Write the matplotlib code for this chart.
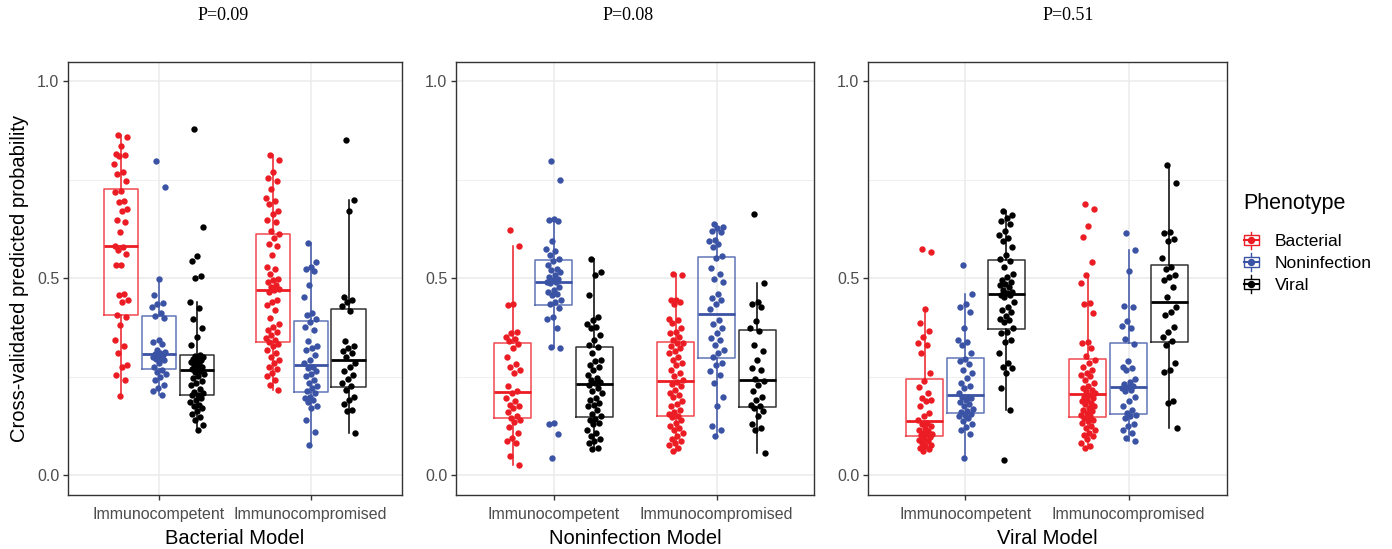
import numpy as np
import matplotlib
matplotlib.use("Agg")
import matplotlib.pyplot as plt
from matplotlib.lines import Line2D
from matplotlib.patches import Rectangle

plt.rcParams['font.family'] = ['Liberation Sans', 'DejaVu Sans']

hosts = ["Immunocompetent", "Immunocompromised"]
phenotypes = ["Bacterial", "Noninfection", "Viral"]
colors = ["#EC1C24", "#3B53A4", "#000000"]
models = ["Bacterial Model", "Noninfection Model", "Viral Model"]
p_values = ["P=0.09", "P=0.08", "P=0.51"]

# Bacterial model
bm_ic_bac = [0.864, 0.859, 0.836, 0.815, 0.812, 0.811, 0.790, 0.771, 0.764, 0.746, 0.721, 0.718, 0.697, 0.693,
             0.676, 0.672, 0.648, 0.642, 0.617, 0.583, 0.579, 0.571, 0.562, 0.535, 0.533, 0.461, 0.457, 0.444,
             0.440, 0.407, 0.402, 0.381, 0.343, 0.328, 0.310, 0.280, 0.276, 0.255, 0.242, 0.202]
bm_ic_non = [0.798, 0.731, 0.499, 0.457, 0.438, 0.434, 0.428, 0.412, 0.405, 0.400, 0.343, 0.339, 0.333, 0.318,
             0.314, 0.310, 0.308, 0.306, 0.302, 0.301, 0.297, 0.296, 0.293, 0.284, 0.276, 0.268, 0.263, 0.258,
             0.250, 0.242, 0.230, 0.222, 0.213, 0.205]
bm_ic_vir = [0.880, 0.631, 0.558, 0.544, 0.505, 0.502, 0.440, 0.425, 0.396, 0.373, 0.352, 0.331, 0.305, 0.302,
             0.300, 0.298, 0.295, 0.292, 0.290, 0.287, 0.283, 0.280, 0.276, 0.272, 0.270, 0.266, 0.262, 0.258,
             0.252, 0.247, 0.240, 0.235, 0.228, 0.220, 0.212, 0.208, 0.205, 0.204, 0.195, 0.190, 0.185, 0.178,
             0.175, 0.170, 0.162, 0.155, 0.148, 0.140, 0.128, 0.114]
bm_cp_bac = [0.812, 0.800, 0.769, 0.756, 0.747, 0.726, 0.704, 0.697, 0.690, 0.672, 0.663, 0.648, 0.642, 0.621,
             0.612, 0.603, 0.588, 0.583, 0.560, 0.529, 0.524, 0.510, 0.499, 0.495, 0.490, 0.482, 0.478, 0.474,
             0.470, 0.465, 0.444, 0.440, 0.432, 0.420, 0.400, 0.385, 0.377, 0.370, 0.364, 0.355, 0.348, 0.343,
             0.338, 0.333, 0.327, 0.318, 0.310, 0.300, 0.293, 0.285, 0.276, 0.269, 0.259, 0.251, 0.242, 0.230,
             0.217]
bm_cp_non = [0.589, 0.541, 0.529, 0.524, 0.519, 0.482, 0.453, 0.411, 0.407, 0.398, 0.388, 0.377, 0.370, 0.340,
             0.327, 0.322, 0.318, 0.305, 0.293, 0.285, 0.276, 0.272, 0.266, 0.258, 0.251, 0.242, 0.234, 0.226,
             0.221, 0.213, 0.208, 0.200, 0.196, 0.192, 0.185, 0.177, 0.171, 0.140, 0.109, 0.076]
bm_cp_vir = [0.850, 0.699, 0.672, 0.453, 0.446, 0.440, 0.430, 0.418, 0.340, 0.328, 0.322, 0.315, 0.310, 0.300,
             0.285, 0.276, 0.265, 0.255, 0.245, 0.234, 0.226, 0.217, 0.200, 0.192, 0.180, 0.167, 0.162, 0.108]

# Noninfection model
nm_ic_bac = [0.623, 0.583, 0.436, 0.432, 0.364, 0.360, 0.352, 0.345, 0.341, 0.333, 0.322, 0.300, 0.283, 0.276,
             0.268, 0.259, 0.226, 0.213, 0.209, 0.196, 0.188, 0.179, 0.175, 0.171, 0.160, 0.150, 0.146, 0.141,
             0.135, 0.123, 0.108, 0.095, 0.087, 0.083, 0.049, 0.025]
nm_ic_non = [0.798, 0.750, 0.651, 0.648, 0.646, 0.594, 0.575, 0.569, 0.560, 0.550, 0.545, 0.535, 0.524, 0.520,
             0.515, 0.508, 0.503, 0.499, 0.495, 0.492, 0.490, 0.487, 0.478, 0.470, 0.465, 0.461, 0.457, 0.445,
             0.440, 0.436, 0.425, 0.402, 0.398, 0.375, 0.325, 0.322, 0.133, 0.129, 0.104, 0.045]
nm_ic_vir = [0.548, 0.516, 0.508, 0.459, 0.402, 0.394, 0.385, 0.377, 0.373, 0.355, 0.343, 0.331, 0.325, 0.310,
             0.293, 0.289, 0.280, 0.276, 0.268, 0.255, 0.248, 0.242, 0.238, 0.234, 0.230, 0.221, 0.215, 0.209,
             0.196, 0.190, 0.184, 0.179, 0.175, 0.165, 0.155, 0.150, 0.143, 0.141, 0.133, 0.129, 0.116, 0.108,
             0.099, 0.091, 0.087, 0.083, 0.070, 0.066]
nm_cp_bac = [0.512, 0.508, 0.446, 0.444, 0.440, 0.436, 0.398, 0.394, 0.387, 0.373, 0.364, 0.360, 0.352, 0.343,
             0.337, 0.335, 0.327, 0.322, 0.315, 0.310, 0.300, 0.293, 0.285, 0.280, 0.268, 0.259, 0.251, 0.243,
             0.238, 0.232, 0.226, 0.217, 0.209, 0.205, 0.200, 0.188, 0.180, 0.175, 0.167, 0.160, 0.155, 0.151,
             0.147, 0.141, 0.133, 0.125, 0.120, 0.116, 0.108, 0.099, 0.091, 0.087, 0.083, 0.078, 0.070, 0.061]
nm_cp_non = [0.638, 0.631, 0.627, 0.621, 0.617, 0.598, 0.594, 0.588, 0.579, 0.558, 0.552, 0.527, 0.510, 0.499,
             0.491, 0.460, 0.449, 0.444, 0.436, 0.423, 0.394, 0.385, 0.375, 0.360, 0.348, 0.343, 0.330, 0.318,
             0.310, 0.301, 0.286, 0.280, 0.265, 0.255, 0.234, 0.200, 0.175, 0.126, 0.116, 0.101]
nm_cp_vir = [0.663, 0.488, 0.440, 0.436, 0.428, 0.392, 0.375, 0.366, 0.331, 0.316, 0.293, 0.272, 0.268, 0.245,
             0.240, 0.230, 0.213, 0.200, 0.192, 0.179, 0.175, 0.170, 0.162, 0.150, 0.129, 0.120, 0.116, 0.057]

# Viral model
vm_ic_bac = [0.575, 0.567, 0.423, 0.387, 0.367, 0.352, 0.335, 0.331, 0.311, 0.260, 0.240, 0.224, 0.209, 0.196,
             0.192, 0.188, 0.175, 0.158, 0.150, 0.141, 0.133, 0.130, 0.125, 0.120, 0.116, 0.112, 0.108, 0.106,
             0.104, 0.102, 0.098, 0.095, 0.090, 0.087, 0.082, 0.078, 0.074, 0.070, 0.066, 0.061]
vm_ic_non = [0.533, 0.461, 0.436, 0.428, 0.415, 0.373, 0.343, 0.339, 0.331, 0.310, 0.295, 0.289, 0.283, 0.268,
             0.259, 0.247, 0.235, 0.226, 0.221, 0.209, 0.200, 0.198, 0.196, 0.192, 0.185, 0.180, 0.175, 0.168,
             0.164, 0.160, 0.156, 0.154, 0.150, 0.146, 0.138, 0.129, 0.122, 0.116, 0.104, 0.045]
vm_ic_vir = [0.672, 0.660, 0.653, 0.646, 0.638, 0.621, 0.609, 0.603, 0.596, 0.579, 0.560, 0.550, 0.545, 0.530,
             0.512, 0.503, 0.495, 0.491, 0.485, 0.482, 0.478, 0.470, 0.465, 0.463, 0.459, 0.457, 0.453, 0.440,
             0.428, 0.419, 0.415, 0.405, 0.398, 0.394, 0.390, 0.375, 0.364, 0.360, 0.343, 0.339, 0.310, 0.285,
             0.276, 0.272, 0.259, 0.221, 0.167, 0.039]
vm_cp_bac = [0.689, 0.676, 0.634, 0.606, 0.541, 0.508, 0.487, 0.438, 0.436, 0.411, 0.339, 0.335, 0.322, 0.302,
             0.293, 0.285, 0.276, 0.268, 0.259, 0.255, 0.251, 0.242, 0.234, 0.226, 0.221, 0.217, 0.213, 0.209,
             0.205, 0.200, 0.196, 0.192, 0.188, 0.184, 0.180, 0.175, 0.170, 0.167, 0.162, 0.158, 0.154, 0.150,
             0.146, 0.141, 0.137, 0.133, 0.125, 0.120, 0.116, 0.108, 0.103, 0.099, 0.091, 0.083, 0.074, 0.070]
vm_cp_non = [0.614, 0.572, 0.518, 0.430, 0.428, 0.391, 0.379, 0.375, 0.345, 0.333, 0.289, 0.276, 0.272, 0.268,
             0.244, 0.238, 0.232, 0.226, 0.224, 0.221, 0.217, 0.215, 0.200, 0.188, 0.175, 0.167, 0.158, 0.152,
             0.150, 0.146, 0.129, 0.125, 0.116, 0.108, 0.095, 0.087]
vm_cp_vir = [0.788, 0.741, 0.617, 0.614, 0.600, 0.596, 0.552, 0.529, 0.524, 0.508, 0.503, 0.495, 0.478, 0.453,
             0.428, 0.415, 0.407, 0.377, 0.364, 0.352, 0.340, 0.330, 0.285, 0.268, 0.263, 0.188, 0.184, 0.120]

panels = [
    [[bm_ic_bac, bm_ic_non, bm_ic_vir], [bm_cp_bac, bm_cp_non, bm_cp_vir]],
    [[nm_ic_bac, nm_ic_non, nm_ic_vir], [nm_cp_bac, nm_cp_non, nm_cp_vir]],
    [[vm_ic_bac, vm_ic_non, vm_ic_vir], [vm_cp_bac, vm_cp_non, vm_cp_vir]],
]

W, H = 1392, 549
fig = plt.figure(figsize=(W / 100, H / 100), dpi=100)

# panel frames in pixels: left, right
frames = [(67.7, 401.7), (455.7, 814.3), (867.5, 1226.5)]
top_px, bot_px = 61.7, 495.0
title_x = [223, 628, 1068]

grey20 = "#333333"
grey30 = "#4D4D4D"
grid_col = "#EBEBEB"

for k in range(3):
    l, r = frames[k]
    ax = fig.add_axes([l / W, 1 - bot_px / H, (r - l) / W, (bot_px - top_px) / H])
    ax.set_axisbelow(True)
    for h in range(2):
        for j in range(3):
            vals = np.array(panels[k][h][j])
            pos = h + 1 + (j - 1) * 0.25
            c = colors[j]
            ax.boxplot(vals, positions=[pos], widths=0.225, showfliers=False, showcaps=False,
                       boxprops=dict(color=c, lw=1.1, alpha=0.8),
                       whiskerprops=dict(color=c, lw=1.1),
                       medianprops=dict(color=c, lw=2.0), manage_ticks=False)
            # deterministic jitter (golden ratio sequence)
            n = len(vals)
            jit = ((np.arange(n) * 0.618034 + 0.31) % 1.0 - 0.5) * 0.09
            ax.scatter(pos + jit, vals, s=21, color=c, linewidths=0, zorder=3)

    ax.set_xlim(0.4, 2.6)
    ax.set_ylim(-0.05, 1.05)
    ax.set_xticks([1, 2])
    ax.set_xticklabels(hosts)
    ax.set_yticks([0.0, 0.5, 1.0])
    ax.set_yticklabels(["0.0", "0.5", "1.0"])
    ax.set_yticks([0.25, 0.75], minor=True)
    ax.grid(which="major", color=grid_col, lw=1.1)
    ax.grid(which="minor", axis="y", color=grid_col, lw=0.55)
    ax.tick_params(which="major", length=3.5, width=1.0, color=grey20, labelsize=11.5,
                   labelcolor=grey30, pad=2.5)
    ax.tick_params(axis="x", which="major", pad=5)
    ax.tick_params(which="minor", length=0)
    for sp in ax.spines.values():
        sp.set_color(grey20)
        sp.set_linewidth(1.0)
    ax.set_xlabel(models[k], fontsize=14.5, labelpad=5)

    fig.text(title_x[k] / W, 1 - 16 / H, p_values[k], ha="center", va="center",
             fontsize=13, family=["Liberation Serif", "DejaVu Serif"])

fig.text(20 / W, 1 - 278.4 / H, "Cross-validated predicted probability", rotation=90,
         ha="center", va="center", fontsize=14.5)


# legend key drawn like a ggplot boxplot key
class BoxKey:
    def legend_artist(self, legend, orig_handle, fontsize, handlebox):
        c = orig_handle.get_color()
        x0, y0 = -handlebox.xdescent, -handlebox.ydescent
        w, h = handlebox.width, handlebox.height
        cx, cy = x0 + w / 2, y0 + h / 2
        bw, bh = w * 0.92, 7.4
        whisk = Line2D([cx, cx], [cy - 6.2, cy + 6.2], color=c, lw=1.0)
        box = Rectangle((cx - bw / 2, cy - bh / 2), bw, bh, fc="white", ec=c, lw=1.0)
        med = Line2D([cx - bw / 2, cx + bw / 2], [cy, cy], color=c, lw=1.5)
        dot = Line2D([cx], [cy], marker="o", markersize=4.3, color=c, ls="None")
        for a in (whisk, box, med, dot):
            a.set_transform(handlebox.get_transform())
            handlebox.add_artist(a)
        return box


fig.text(1243 / W, 1 - 204 / H, "Phenotype", ha="left", va="center", fontsize=15.5)

handles = [Line2D([], [], color=c) for c in colors]
leg = fig.legend(handles=handles, labels=phenotypes, handler_map={Line2D: BoxKey()},
                 loc="upper left", bbox_to_anchor=(1236 / W, 1 - 226 / H), frameon=False,
                 fontsize=12.5, handlelength=0.95, handleheight=0.9, handletextpad=0.9,
                 labelspacing=0.33, borderaxespad=0)

fig.savefig("out.png", dpi=100)
